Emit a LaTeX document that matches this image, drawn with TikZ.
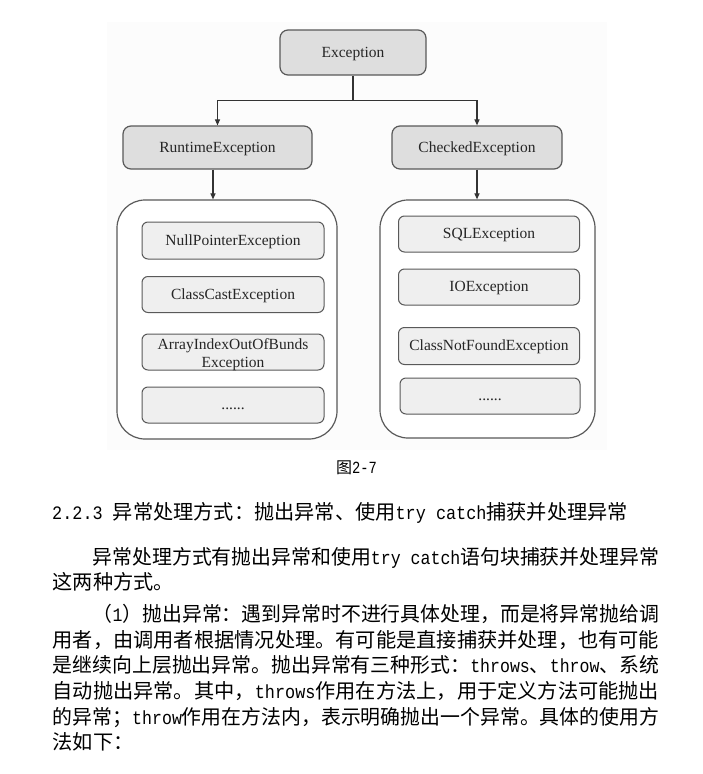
\documentclass[tikz,border=0pt]{standalone}
\usepackage{fontspec}
\usepackage{graphicx}
\setmainfont{Liberation Serif}
\newfontfamily\cjkfnt{Noto Sans CJK SC}
\newfontfamily\monofnt{Liberation Mono}[FakeStretch=0.886]
\newfontfamily\monocap{Liberation Mono}[FakeStretch=0.81]
\usetikzlibrary{arrows.meta,calc}
\definecolor{linecol}{HTML}{595959}
\definecolor{topfill}{HTML}{DEDEDE}
\definecolor{innerfill}{HTML}{EFEFEF}
\definecolor{diagtext}{HTML}{262626}
\definecolor{bgfaint}{HTML}{FCFCFC}
\definecolor{conncol}{HTML}{333333}
\newsavebox\linebox
\newlength\natwd
\newcommand\fitline[2]{\sbox\linebox{#2}\setlength\natwd{\wd\linebox}\pgfmathsetmacro\fitsx{#1/\natwd}\scalebox{\fitsx}[1]{\usebox\linebox}}
\newcommand\mo[1]{{\monofnt\fontsize{19}{22}\selectfont #1}}
\tikzset{
  diagfont/.style={font=\fontsize{15.5}{18}\selectfont, text=diagtext},
  topbox/.style={diagfont, draw=linecol, fill=topfill, rounded corners=8pt, line width=1.2pt, inner sep=0pt, text height=13pt, text depth=4pt},
  innerbox/.style={diagfont, draw=linecol, fill=innerfill, rounded corners=6pt, line width=1pt, inner sep=0pt},
  onetext/.style={text height=13pt, text depth=4pt},
  container/.style={draw=linecol, fill=white, rounded corners=28pt, line width=1.2pt, inner sep=0pt},
  conn/.style={draw=conncol, line width=1.1pt},
  arr/.style={conn, -{Triangle[length=6pt,width=5pt]}},
  bodyline/.style={inner sep=0pt, font=\cjkfnt\fontsize{20.2}{24}\selectfont, text=black},
}
\begin{document}
\begin{tikzpicture}[x=1pt,y=-1pt]
\useasboundingbox (0,0) rectangle (703,774);
\fill[bgfaint] (107,22) rectangle (607,450);
% top level
\node[topbox, minimum width=146pt, minimum height=45pt] (ex) at (353,52.5) {Exception};
\node[topbox, minimum width=189pt, minimum height=43pt] (rt) at (217.5,147.5) {RuntimeException};
\node[topbox, minimum width=170pt, minimum height=43pt] (ck) at (477,147.5) {CheckedException};
% containers
\node[container, minimum width=220pt, minimum height=239pt] (lc) at (227,319.5) {};
\node[container, minimum width=215pt, minimum height=238pt] (rc) at (487.5,319) {};
% left inner boxes
\node[innerbox, onetext, minimum width=182pt, minimum height=37pt] (np) at (233,240.5) {NullPointerException};
\node[innerbox, onetext, minimum width=182pt, minimum height=36pt] (cc) at (233,294.5) {ClassCastException};
\node[innerbox, minimum width=182pt, minimum height=36pt] (ai) at (233,352) {};
\node[diagfont, align=center, inner sep=0pt] (ait) at (233,355) {ArrayIndexOutOfBunds\\Exception};
\node[innerbox, onetext, minimum width=182pt, minimum height=36pt] (d1) at (233,405) {......};
% right inner boxes
\node[innerbox, onetext, minimum width=181pt, minimum height=36pt] (sql) at (489,234) {SQLException};
\node[innerbox, onetext, minimum width=181pt, minimum height=36pt] (io) at (489,287) {IOException};
\node[innerbox, onetext, minimum width=181pt, minimum height=37pt] (cnf) at (489,346) {ClassNotFoundException};
\node[innerbox, onetext, minimum width=180pt, minimum height=36pt] (d2) at (490,396) {......};
% connectors
\coordinate (j) at ($(ex.south)+(0,25)$);
\draw[conn] (ex.south) -- (j);
\draw[arr] (j) -| (rt.north);
\draw[arr] (j) -| (ck.north);
\draw[arr] ([xshift=-4.5pt]rt.south) -- ([xshift=-4.5pt]rt.south |- lc.north);
\draw[arr] (ck.south) -- (ck.south |- rc.north);
% caption
\node[anchor=base, inner sep=0pt] (cap) at (356.5,473) {{\cjkfnt\fontsize{16}{19}\selectfont 图}{\monocap\fontsize{17}{19}\selectfont 2-7}};
% heading
\node[bodyline, anchor=base west] (head) at (52,519.7) {\mo{2.2.3 }异常处理方式：抛出异常、使用\mo{try catch}捕获并处理异常};
% body
\node[bodyline, anchor=base west] (l1) at (92.5,564.2) {\fitline{566.5}{异常处理方式有抛出异常和使用\mo{try catch}语句块捕获并处理异常}};
\node[bodyline, anchor=base west] (l2) at (52.5,589.7) {这两种方式。};
\node[bodyline, anchor=base west] (l3) at (92.5,621.7) {\fitline{566.5}{（\mo{1}）抛出异常：遇到异常时不进行具体处理，而是将异常抛给调}};
\node[bodyline, anchor=base west] (l4) at (52.5,647.3) {\fitline{606.5}{用者，由调用者根据情况处理。有可能是直接捕获并处理，也有可能}};
\node[bodyline, anchor=base west] (l5) at (52.5,672.9) {\fitline{606.5}{是继续向上层抛出异常。抛出异常有三种形式：\mo{throws}、\mo{throw}、系统}};
\node[bodyline, anchor=base west] (l6) at (52.5,698.5) {\fitline{606.5}{自动抛出异常。其中，\mo{throws}作用在方法上，用于定义方法可能抛出}};
\node[bodyline, anchor=base west] (l7) at (52.5,724.1) {\fitline{606.5}{的异常；\mo{throw}作用在方法内，表示明确抛出一个异常。具体的使用方}};
\node[bodyline, anchor=base west] (l8) at (52.5,749.7) {法如下：};
\end{tikzpicture}
\end{document}
